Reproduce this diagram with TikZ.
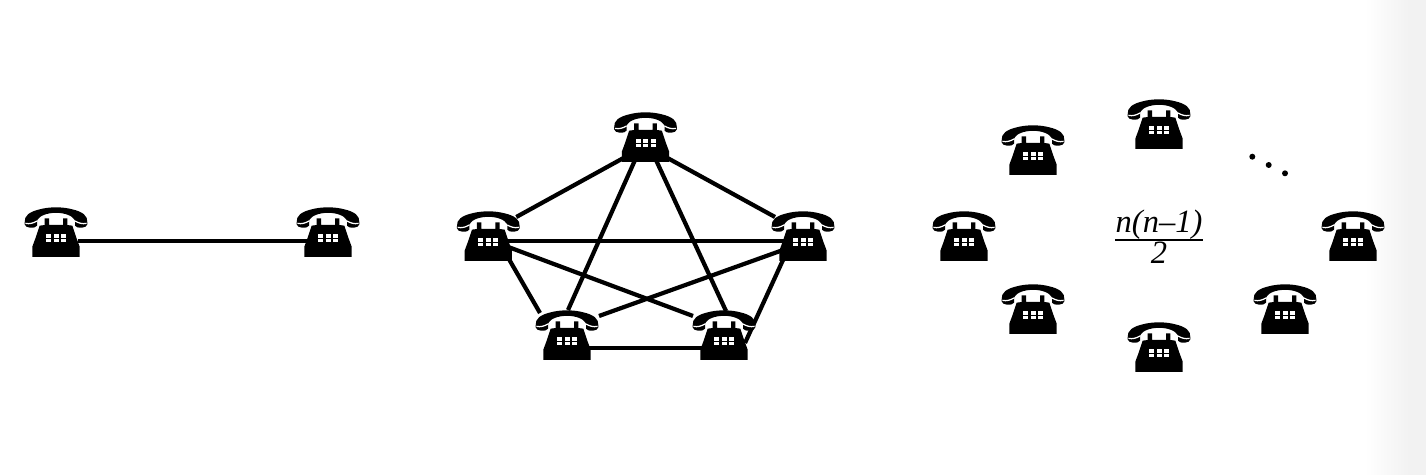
\documentclass[tikz,border=0pt]{standalone}
\usepackage{fontspec}
\setmainfont{Liberation Serif}
\usetikzlibrary{shadings}
\tikzset{
  x=0.02cm,y=-0.02cm,
  phonenode/.style={inner sep=0pt,minimum width=1.26cm,minimum height=1cm},
  wire/.style={line width=2.4pt,black},
  dotmark/.style={circle,fill=black,inner sep=0pt,minimum size=3.4pt},
  fractext/.style={inner sep=0pt,anchor=base,font=\fontsize{18.5}{20}\selectfont\itshape},
  phone/.pic={
    \begin{scope}[x=0.006667cm,y=-0.006667cm,shift={(-139,-111)}]
      \fill[black] (45,82) .. controls (43,62) and (60,50) .. (90,43)
        .. controls (120,35) and (158,35) .. (188,43)
        .. controls (218,50) and (235,62) .. (233,82) -- (233,88)
        .. controls (233,100) and (200,102) .. (196,92) -- (196,76)
        .. controls (180,46) and (98,46) .. (82,76) -- (82,92)
        .. controls (78,102) and (45,100) .. (45,88) -- cycle;
      \draw[white,line width=0.7pt] (47,85) .. controls (60,88) and (72,84) .. (82,78);
      \draw[white,line width=0.7pt] (196,78) .. controls (206,84) and (218,88) .. (231,85);
      \fill[black] (105,70) -- (118,70) -- (118,90) -- (160,90) -- (160,70) -- (173,70) -- (173,90)
        -- (188,92) -- (200,128) -- (210,155) -- (210,186) -- (68,186) -- (68,155)
        -- (78,128) -- (90,92) -- (105,90) -- cycle;
      \foreach \kx in {109,132,154} \foreach \ky in {117,131}
        \fill[white] (\kx,\ky) rectangle ++(15,11);
    \end{scope}
  }
}
\newcommand{\telephone}[2]{\node[phonenode] (#1) at (#2) {}; }
\newcommand{\drawphone}[1]{\pic at (#1.center) {phone};}
\begin{document}
\begin{tikzpicture}
\useasboundingbox (0,0) rectangle (1426,475);
\fill[white] (0,0) rectangle (1426,475);
\shade[left color=white,right color=black!5,shading angle=90] (1365,0) rectangle (1408,475);
\fill[black!5] (1408,0) rectangle (1426,475);

\telephone{a}{56,232}
\telephone{b}{328,232}
\telephone{t}{645.5,137}
\telephone{l}{488.3,236}
\telephone{r}{803,236}
\telephone{bl}{567,335}
\telephone{br}{724,335}
\telephone{c1}{1159,124}
\telephone{c2}{1033,150}
\telephone{c3}{964,236}
\telephone{c4}{1353,236}
\telephone{c5}{1033,309}
\telephone{c6}{1159,347}
\telephone{c7}{1285,309}

\draw[wire] ([shift={(22,9)}]a.center) -- ([shift={(-21,9)}]b.center);
\draw[wire] ([shift={(-22,21)}]t.center) -- ([shift={(28,-19)}]l.center);
\draw[wire] ([shift={(22,21)}]t.center) -- ([shift={(-28,-19)}]r.center);
\draw[wire] ([shift={(-10,22)}]t.center) -- ([shift={(1,-25)}]bl.center);
\draw[wire] ([shift={(10,22)}]t.center) -- ([shift={(2,-24)}]br.center);
\draw[wire] ([shift={(18,5)}]l.center) -- ([shift={(-18,5)}]r.center);
\draw[wire] ([shift={(20,11)}]l.center) -- ([shift={(-31,-19)}]br.center);
\draw[wire] ([shift={(-20,14)}]r.center) -- ([shift={(32,-19)}]bl.center);
\draw[wire] ([shift={(20,22)}]l.center) -- ([shift={(-27,-22)}]bl.center);
\draw[wire] ([shift={(-20,24)}]r.center) -- ([shift={(21,8)}]br.center);
\draw[wire] ([shift={(22,13)}]bl.center) -- ([shift={(-22,13)}]br.center);

\foreach \n in {a,b,t,l,r,bl,br,c1,c2,c3,c4,c5,c6,c7} {\drawphone{\n}}

\node[fractext] (num) at (1159,233) {n(n–1)};
\node[fractext] (den) at (1159,264) {2};
\draw[line width=0.8pt] (1115,240) -- (1203,240);

\node[dotmark] (d1) at (1252.3,156.7) {};
\node[dotmark] (d2) at (1268.7,165) {};
\node[dotmark] (d3) at (1285,173.3) {};
\end{tikzpicture}
\end{document}
